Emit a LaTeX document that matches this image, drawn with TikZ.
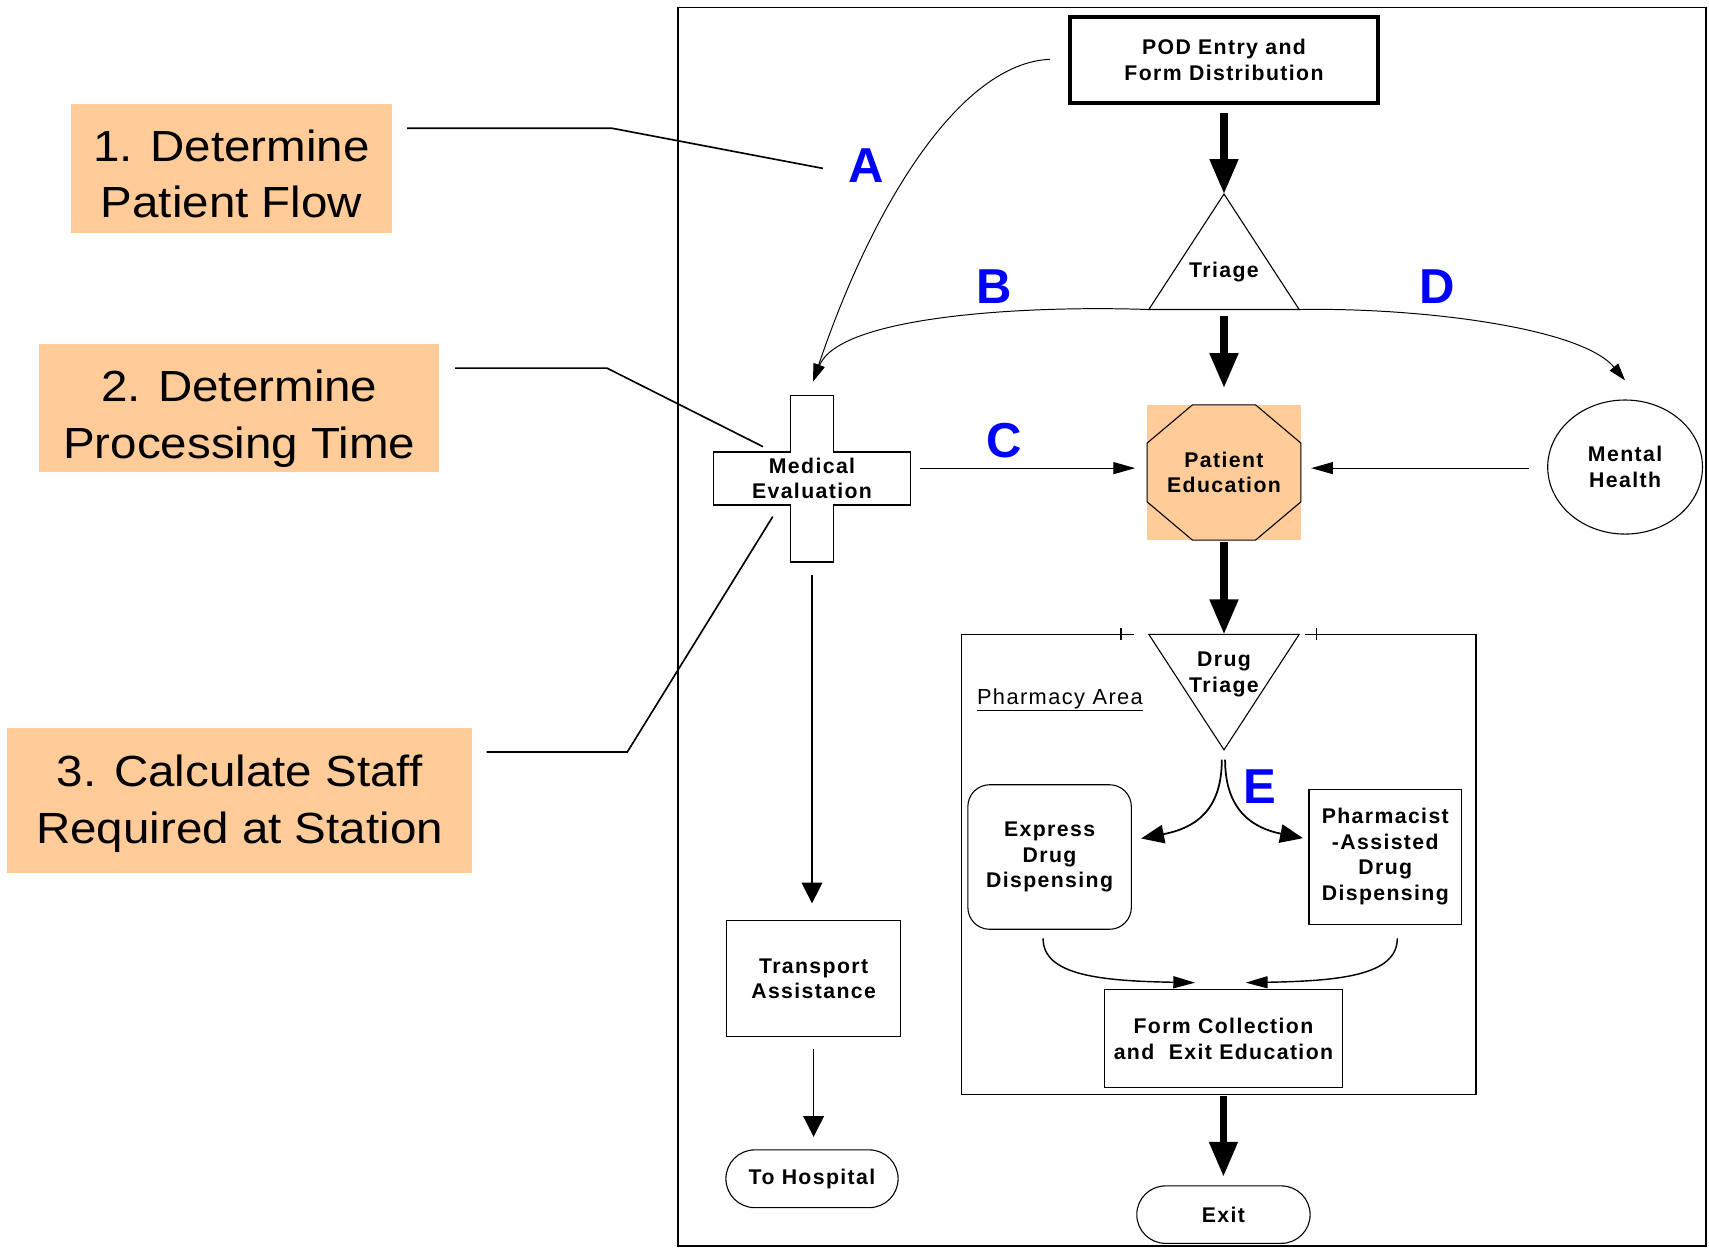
\documentclass[tikz,border=0pt]{standalone}
\usepackage{fontspec}
\setmainfont{Liberation Sans}
\newfontfamily\stationfont[LetterSpace=6.5]{Liberation Sans}
\newfontfamily\goalfont[FakeStretch=1.09]{Liberation Sans}
\usetikzlibrary{arrows.meta,calc,shapes.geometric}
\definecolor{peach}{HTML}{FFCC99}
\definecolor{tagblue}{HTML}{0000FF}
\begin{document}
\begin{tikzpicture}[x=1pt,y=-1pt,
  station/.style={draw, line width=1pt, align=center, inner sep=0pt, outer sep=0pt,
    font=\stationfont\bfseries\fontsize{19.5}{23.5}\selectfont},
  stationtext/.style={align=center, inner sep=0pt, outer sep=0pt,
    font=\stationfont\bfseries\fontsize{19.5}{23.5}\selectfont},
  shapeline/.style={line width=1pt, line join=miter},
  goalbox/.style={fill=peach, inner sep=0pt, outer sep=0pt},
  goaltext/.style={align=center, inner sep=0pt, font=\goalfont\fontsize{40}{52}\selectfont},
  leader/.style={line width=1.5pt},
  letterlbl/.style={inner sep=0pt, text=tagblue, font=\bfseries\fontsize{45}{45}\selectfont},
  flowheavy/.style={line width=6.5pt, -{Triangle[length=32pt,width=25pt]}},
  flowthin/.style={line width=1pt, -{Triangle[length=20pt,width=11pt]}},
  flowdown/.style={line width=1pt, -{Triangle[length=19pt,width=19pt]}},
  flowcurve/.style={line width=0.9pt, -{Triangle[length=16pt,width=10pt]}},
  flowsplit/.style={line width=1.6pt, -{Triangle[length=21pt,width=17pt]}},
  flowmerge/.style={line width=1.3pt, -{Triangle[length=20pt,width=11pt]}}
]
\useasboundingbox (0,0) rectangle (1568,1145);

% outer frame of the POD layout
\draw[line width=1.6pt] (622,7) rectangle (1565,1143);

% planning steps on the left
\node[goalbox, minimum width=294pt, minimum height=118pt] (g1) at (212.35,154.5) {};
\node[goaltext] (g1t) at ($(g1.center)+(0,5.2)$) {1. Determine\\Patient Flow};
\node[goalbox, minimum width=367pt, minimum height=117pt] (g2) at (219.5,374.5) {};
\node[goaltext] (g2t) at ($(g2.center)+(0,9.9)$) {2. Determine\\Processing Time};
\node[goalbox, minimum width=426.4pt, minimum height=132.7pt] (g3) at (219.8,734.35) {};
\node[goaltext] (g3t) at ($(g3.center)+(0,2.95)$) {3. Calculate Staff\\Required at Station};

% leader lines from the steps
\coordinate (g1bend) at (561.7,117.7);
\coordinate (g1end) at (755,154.5);
\coordinate (g2bend) at (557,337.8);
\coordinate (g2end) at (700,409.8);
\coordinate (g3bend) at (575.5,690);
\coordinate (g3end) at (709,474);
\draw[leader] ($(g1.east)+(14.15,-36.8)$) -- (g1bend) -- (g1end);
\draw[leader] ($(g2.east)+(14.6,-36.7)$) -- (g2bend) -- (g2end);
\draw[leader] ($(g3.east)+(13.5,-44.35)$) -- (g3bend) -- (g3end);

% entry
\node[station, line width=3.7pt, minimum width=283pt, minimum height=79pt] (pod) at (1123,55)
  {POD Entry and\\Form Distribution};

% triage triangle
\coordinate (triTop) at (1123,178);
\coordinate (triL) at (1054,284);
\coordinate (triR) at (1192,284);
\draw[shapeline] (triL) -- (triTop) -- (triR) -- cycle;
\node[stationtext] (triage) at (1123,250) {Triage};

% medical evaluation cross
\node[stationtext] (med) at (745,439) {Medical\\Evaluation};
\draw[shapeline] (725.3,363) -- (764.7,363) -- (764.7,414.7) -- (835,414.7) -- (835,463.3)
  -- (764.7,463.3) -- (764.7,515.6) -- (725.3,515.6) -- (725.3,463.3) -- (655,463.3)
  -- (655,414.7) -- (725.3,414.7) -- cycle;

% patient education octagon on a peach square
\node[fill=peach, minimum width=141pt, minimum height=124pt, inner sep=0pt, outer sep=0pt,
  align=center, font=\stationfont\bfseries\fontsize{19.5}{23.5}\selectfont] (pe) at (1123,433.5)
  {Patient\\Education};
\draw[shapeline] ($(pe.north west)+(41.5,0)$) -- ($(pe.north east)+(-41.5,0)$)
  -- ($(pe.north east)+(0,35)$) -- ($(pe.south east)+(0,-35)$)
  -- ($(pe.south east)+(-41.5,0)$) -- ($(pe.south west)+(41.5,0)$)
  -- ($(pe.south west)+(0,-35)$) -- ($(pe.north west)+(0,35)$) -- cycle;

% mental health
\node[station, ellipse, minimum width=142pt, minimum height=123pt] (mh) at (1491,428.5)
  {Mental\\Health};

% pharmacy area frame with its open top
\draw[line width=1.4pt] (1040,582) -- (882,582) -- (882,1004) -- (1354,1004) -- (1354,582) -- (1197,582);
\draw[line width=1pt] (1028.5,576.5) -- (1028.5,587.5);
\draw[line width=1pt] (1207.5,576.5) -- (1207.5,587.5);
\node[inner sep=0pt, anchor=base, font=\stationfont\fontsize{20}{24}\selectfont] (area) at (972.5,646)
  {\underline{Pharmacy Area}};

% drug triage (inverted triangle)
\coordinate (dtL) at (1054,582);
\coordinate (dtR) at (1192,582);
\coordinate (dtB) at (1123,688);
\draw[shapeline] (dtL) -- (dtR) -- (dtB) -- cycle;
\node[stationtext] (dt) at (1123,619) {Drug\\Triage};

% dispensing stations
\node[station, rounded corners=20pt, minimum width=150pt, minimum height=132.6pt] (exp) at (963,786.3)
  {Express\\Drug\\Dispensing};
\node[station, minimum width=140pt, minimum height=124pt] (pha) at (1271,786)
  {Pharmacist\\-Assisted\\Drug\\Dispensing};
\node[station, minimum width=218.5pt, minimum height=90pt] (fc) at (1122.5,953)
  {Form Collection\\and\ \ Exit Education};
\node[station, rounded corners=26.3pt, minimum width=159pt, minimum height=52.7pt] (exit) at (1122.5,1114.4)
  {Exit};

% transport branch
\node[station, minimum width=159.7pt, minimum height=106.3pt] (tr) at (746.5,898)
  {Transport\\Assistance};
\node[station, rounded corners=26.5pt, minimum width=158pt, minimum height=53pt] (hosp) at (745,1081.5)
  {To Hospital};

% main flow
\draw[flowheavy] ($(pod.south)+(0,9.3)$) -- (triTop);
\draw[flowheavy] ($(triL)!0.5!(triR)+(0,5.5)$) -- ($(pe.north)+(0,-15.5)$);
\draw[flowheavy] ($(pe.south)+(0,1.5)$) -- ($(dtL)!0.5!(dtR)$);
\draw[flowheavy] ($(fc.south)+(0,8)$) -- ($(exit.north)+(0,-8.45)$);

% side routes
\draw[flowcurve] ($(pod.west)+(-18.1,-0.6)$) .. controls (880,58) and (800,190) .. ($(med)+(1,-89)$);
\draw[flowcurve] (triL) .. controls (940,280) and (770,290) .. ($(med)+(1,-89)$);
\draw[flowcurve] (triR) .. controls (1300,282) and (1450,300) .. ($(mh.north)+(0,-18)$);
\draw[flowthin] ($(med)+(99,-9.5)$) -- ($(pe.west)+(-11,-4)$);
\draw[flowthin] ($(mh.west)+(-17,1)$) -- ($(pe.east)+(9.5,-4)$);
\draw[flowdown] ($(med)+(0,89)$) -- ($(med |- tr.north)+(0,-16)$);
\draw[flowdown] ($(tr.south)+(0,11.4)$) -- ($(tr.south |- hosp.north)+(0,-12)$);

% pharmacy split and merge
\draw[flowsplit] ($(dtB)+(-2,9)$) .. controls (1121,745) and (1095,760) .. ($(exp.east)+(9,-17)$);
\draw[flowsplit] ($(dtB)+(1,9)$) .. controls (1124,745) and (1151,760) .. ($(pha.west)+(-5.5,-17)$);
\draw[flowmerge] ($(exp.south)+(-6,8.4)$) .. controls (957,895) and (1010,900) .. ($(fc.north)+(-26,-6.4)$);
\draw[flowmerge] ($(pha.south)+(11,13)$) .. controls (1282,895) and (1229,900) .. ($(fc.north)+(20.5,-6.4)$);

% route letters
\node[letterlbl] (tagA) at (795,152) {A};
\node[letterlbl] (tagB) at (912,263) {B};
\node[letterlbl] (tagC) at (921,404) {C};
\node[letterlbl] (tagD) at (1319,263) {D};
\node[letterlbl] (tagE) at (1156,722) {E};
\end{tikzpicture}
\end{document}
